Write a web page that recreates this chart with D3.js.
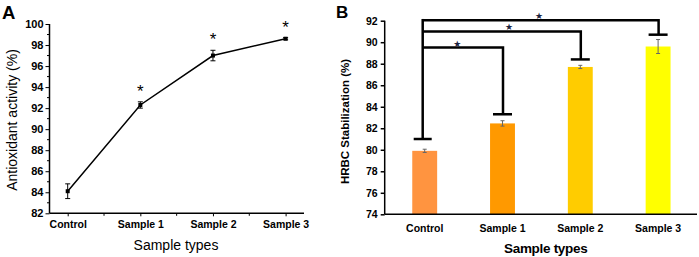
<!DOCTYPE html>
<html>
<head>
<meta charset="utf-8" />
<title>Antioxidant and HRBC</title>
<script src="https://cdnjs.cloudflare.com/ajax/libs/d3/7.8.5/d3.min.js"></script>
<style>
  body { margin: 0; background: #fff; }
  svg { display: block; font-family: Arial, "Liberation Sans", sans-serif; }
</style>
</head>
<body>
<svg id="chart" width="699" height="257"></svg>
<script>
  // shared categories
  let categories = ['Control', 'Sample 1', 'Sample 2', 'Sample 3']

  // panel A data
  let antioxMean = [84.1, 92.3, 97.0, 98.6]
  let antioxErr = [0.7, 0.3, 0.5, 0.1]
  let antioxStar = [false, true, true, true]
  let antioxTicks = [82, 84, 86, 88, 90, 92, 94, 96, 98, 100]

  // panel B data
  let hrbcMean = [79.9, 82.45, 87.7, 89.6]
  let hrbcErr = [0.15, 0.25, 0.15, 0.65]
  let hrbcColors = ['#ff9440', '#ff9900', '#ffcc00', '#ffff00']
  let hrbcTicks = [74, 76, 78, 80, 82, 84, 86, 88, 90, 92]
  // significance brackets: level of the top line and bottom of the drop to each sample
  let bracketTop = [89.5, 91.0, 92.05]
  let bracketDrop = [83.3, 88.4, 90.7]
  let controlDrop = 81.0

  let svg = d3.select('#chart')

  // ---------- Panel A ----------
  let ax = { left: 49.5, right: 304, top: 24, bottom: 213.3 }
  let xA = d3.scalePoint().domain(categories).range([67.7, 285.6])
  let yA = d3.scaleLinear().domain([82, 100]).range([ax.bottom, ax.top])
  let gA = svg.append('g')

  let yAxisA = d3.axisLeft(yA).tickValues(antioxTicks).tickSize(4).tickPadding(2).tickFormat(d3.format('d'))
  gA.append('g').attr('transform', `translate(${ax.left},0)`).call(yAxisA)
    .call(g => g.select('.domain').remove())
    .call(g => g.selectAll('text').attr('font-size', 11).attr('font-weight', 'bold').attr('font-family', 'Arial'))
  // minor y ticks
  gA.selectAll('.yminA').data(d3.range(83, 100, 2)).enter().append('line')
    .attr('x1', ax.left - 2.5).attr('x2', ax.left)
    .attr('y1', d => yA(d)).attr('y2', d => yA(d)).attr('stroke', '#000')
  gA.append('line').attr('x1', ax.left).attr('x2', ax.left).attr('y1', ax.top).attr('y2', ax.bottom)
    .attr('stroke', '#000').attr('stroke-width', 1.5)

  let xAxisA = d3.axisBottom(xA).tickSize(3).tickPadding(4)
  gA.append('g').attr('transform', `translate(0,${ax.bottom})`).call(xAxisA)
    .call(g => g.select('.domain').remove())
    .call(g => g.selectAll('text').attr('font-size', 10.5).attr('font-weight', 'bold').attr('font-family', 'Arial'))
  // minor x ticks halfway between categories
  let stepA = xA.step()
  gA.selectAll('.xminA').data(categories.slice(0, 3)).enter().append('line')
    .attr('x1', d => xA(d) + stepA / 2).attr('x2', d => xA(d) + stepA / 2)
    .attr('y1', ax.bottom).attr('y2', ax.bottom + 2.5).attr('stroke', '#000')
  gA.append('line').attr('x1', ax.left).attr('x2', ax.right).attr('y1', ax.bottom).attr('y2', ax.bottom)
    .attr('stroke', '#000').attr('stroke-width', 1.5)

  let line = d3.line().x((d, i) => xA(categories[i])).y(d => yA(d))
  gA.append('path').datum(antioxMean).attr('d', line).attr('fill', 'none')
    .attr('stroke', '#000').attr('stroke-width', 1.5)

  // error bars
  let errA = gA.selectAll('.errA').data(antioxMean).enter().append('g')
  errA.append('line')
    .attr('x1', (d, i) => xA(categories[i])).attr('x2', (d, i) => xA(categories[i]))
    .attr('y1', (d, i) => yA(d - antioxErr[i])).attr('y2', (d, i) => yA(d + antioxErr[i]))
    .attr('stroke', '#000').attr('stroke-width', 1)
  errA.append('line')
    .attr('x1', (d, i) => xA(categories[i]) - 2.5).attr('x2', (d, i) => xA(categories[i]) + 2.5)
    .attr('y1', (d, i) => yA(d + antioxErr[i])).attr('y2', (d, i) => yA(d + antioxErr[i]))
    .attr('stroke', '#000')
  errA.append('line')
    .attr('x1', (d, i) => xA(categories[i]) - 2.5).attr('x2', (d, i) => xA(categories[i]) + 2.5)
    .attr('y1', (d, i) => yA(d - antioxErr[i])).attr('y2', (d, i) => yA(d - antioxErr[i]))
    .attr('stroke', '#000')
  errA.append('rect')
    .attr('x', (d, i) => xA(categories[i]) - 2).attr('y', d => yA(d) - 2)
    .attr('width', 4).attr('height', 4).attr('fill', '#000')
  gA.selectAll('.starA').data(antioxMean).enter().filter((d, i) => antioxStar[i])
    .append('text')
    .attr('x', (d, i) => xA(categories[i + 1]))
    .attr('y', (d, i) => yA(d + antioxErr[i + 1]) - 5)
    .attr('text-anchor', 'middle').attr('font-size', 17).attr('font-family', 'Arial')
    .text('*')

  gA.append('text').attr('transform', 'translate(17,120) rotate(-90)')
    .attr('text-anchor', 'middle').attr('font-size', 14).attr('font-family', 'Arial')
    .text('Antioxidant activity (%)')
  gA.append('text').attr('x', 176).attr('y', 250).attr('text-anchor', 'middle')
    .attr('font-size', 14).attr('font-family', 'Arial').text('Sample types')
  gA.append('text').attr('x', 2).attr('y', 18.5).attr('font-size', 18.5).attr('font-weight', 'bold')
    .attr('font-family', 'Arial').text('A')

  // ---------- Panel B ----------
  let bx = { left: 384.7, right: 697, top: 20.7, bottom: 214.3 }
  let xB = d3.scaleBand().domain(categories).range([385.8, 697]).paddingInner(0.68).paddingOuter(0.34)
  let yB = d3.scaleLinear().domain([74, 92]).range([bx.bottom, bx.top])
  let gB = svg.append('g')

  gB.selectAll('.bar').data(hrbcMean).enter().append('rect')
    .attr('x', (d, i) => xB(categories[i])).attr('width', xB.bandwidth())
    .attr('y', d => yB(d)).attr('height', d => yB(74) - yB(d))
    .attr('fill', (d, i) => hrbcColors[i])

  let yAxisB = d3.axisLeft(yB).tickValues(hrbcTicks).tickSize(4).tickPadding(3).tickFormat(d3.format('d'))
  gB.append('g').attr('transform', `translate(${bx.left},0)`).call(yAxisB)
    .call(g => g.select('.domain').remove())
    .call(g => g.selectAll('line').attr('stroke-width', 1.5))
    .call(g => g.selectAll('text').attr('font-size', 10.5).attr('font-weight', 'bold').attr('font-family', 'Arial'))
  gB.append('line').attr('x1', bx.left).attr('x2', bx.left).attr('y1', bx.top).attr('y2', bx.bottom)
    .attr('stroke', '#000').attr('stroke-width', 1.5)

  let xAxisB = d3.axisBottom(xB).tickSize(0).tickPadding(10)
  gB.append('g').attr('transform', `translate(0,${bx.bottom})`).call(xAxisB)
    .call(g => g.select('.domain').remove())
    .call(g => g.selectAll('text').attr('font-size', 10.5).attr('font-weight', 'bold').attr('font-family', 'Arial'))
  gB.append('line').attr('x1', bx.left).attr('x2', bx.right).attr('y1', bx.bottom).attr('y2', bx.bottom)
    .attr('stroke', '#000').attr('stroke-width', 1.5)

  // error bars
  let cxB = c => xB(c) + xB.bandwidth() / 2
  let errB = gB.selectAll('.errB').data(hrbcMean).enter().append('g').attr('stroke', '#666')
  errB.append('line')
    .attr('x1', (d, i) => cxB(categories[i])).attr('x2', (d, i) => cxB(categories[i]))
    .attr('y1', (d, i) => yB(d - hrbcErr[i])).attr('y2', (d, i) => yB(d + hrbcErr[i]))
  errB.append('line')
    .attr('x1', (d, i) => cxB(categories[i]) - 2).attr('x2', (d, i) => cxB(categories[i]) + 2)
    .attr('y1', (d, i) => yB(d + hrbcErr[i])).attr('y2', (d, i) => yB(d + hrbcErr[i]))
  errB.append('line')
    .attr('x1', (d, i) => cxB(categories[i]) - 2).attr('x2', (d, i) => cxB(categories[i]) + 2)
    .attr('y1', (d, i) => yB(d - hrbcErr[i])).attr('y2', (d, i) => yB(d - hrbcErr[i]))

  // significance brackets
  let stemX = cxB(categories[0]) - 2
  let br = gB.append('g').attr('stroke', '#000').attr('stroke-width', 2.5).attr('fill', 'none')
  br.append('line').attr('x1', stemX).attr('x2', stemX)
    .attr('y1', yB(controlDrop)).attr('y2', yB(bracketTop[2]) - 1.2)
  br.append('line').attr('x1', stemX - 9).attr('x2', stemX + 9)
    .attr('y1', yB(controlDrop)).attr('y2', yB(controlDrop))
  bracketTop.forEach((lvl, k) => {
    let tx = cxB(categories[k + 1]) + 0.5
    br.append('path')
      .attr('d', `M${stemX},${yB(lvl)}H${tx}V${yB(bracketDrop[k])}`)
    br.append('line').attr('x1', tx - 10).attr('x2', tx + 9)
      .attr('y1', yB(bracketDrop[k])).attr('y2', yB(bracketDrop[k]))
  })
  let starX = [457.3, 509, 539]
  gB.selectAll('.starB').data(bracketTop).enter().append('text')
    .attr('x', (d, i) => starX[i]).attr('y', d => yB(d) - 1)
    .attr('text-anchor', 'middle').attr('font-size', 9).attr('fill', '#1c2340')
    .attr('font-family', 'DejaVu Sans').text('★')

  gB.append('text').attr('transform', 'translate(349,121.5) rotate(-90)')
    .attr('text-anchor', 'middle').attr('font-size', 11.5).attr('font-weight', 'bold')
    .attr('font-family', 'Arial').text('HRBC Stabilization (%)')
  gB.append('text').attr('x', 545.7).attr('y', 253).attr('text-anchor', 'middle')
    .attr('font-size', 13.5).attr('font-weight', 'bold').attr('font-family', 'Arial')
    .attr('letter-spacing', -0.3).text('Sample types')
  gB.append('text').attr('x', 336).attr('y', 17.5).attr('font-size', 17).attr('font-weight', 'bold')
    .attr('font-family', 'Arial').text('B')
</script>
</body>
</html>
